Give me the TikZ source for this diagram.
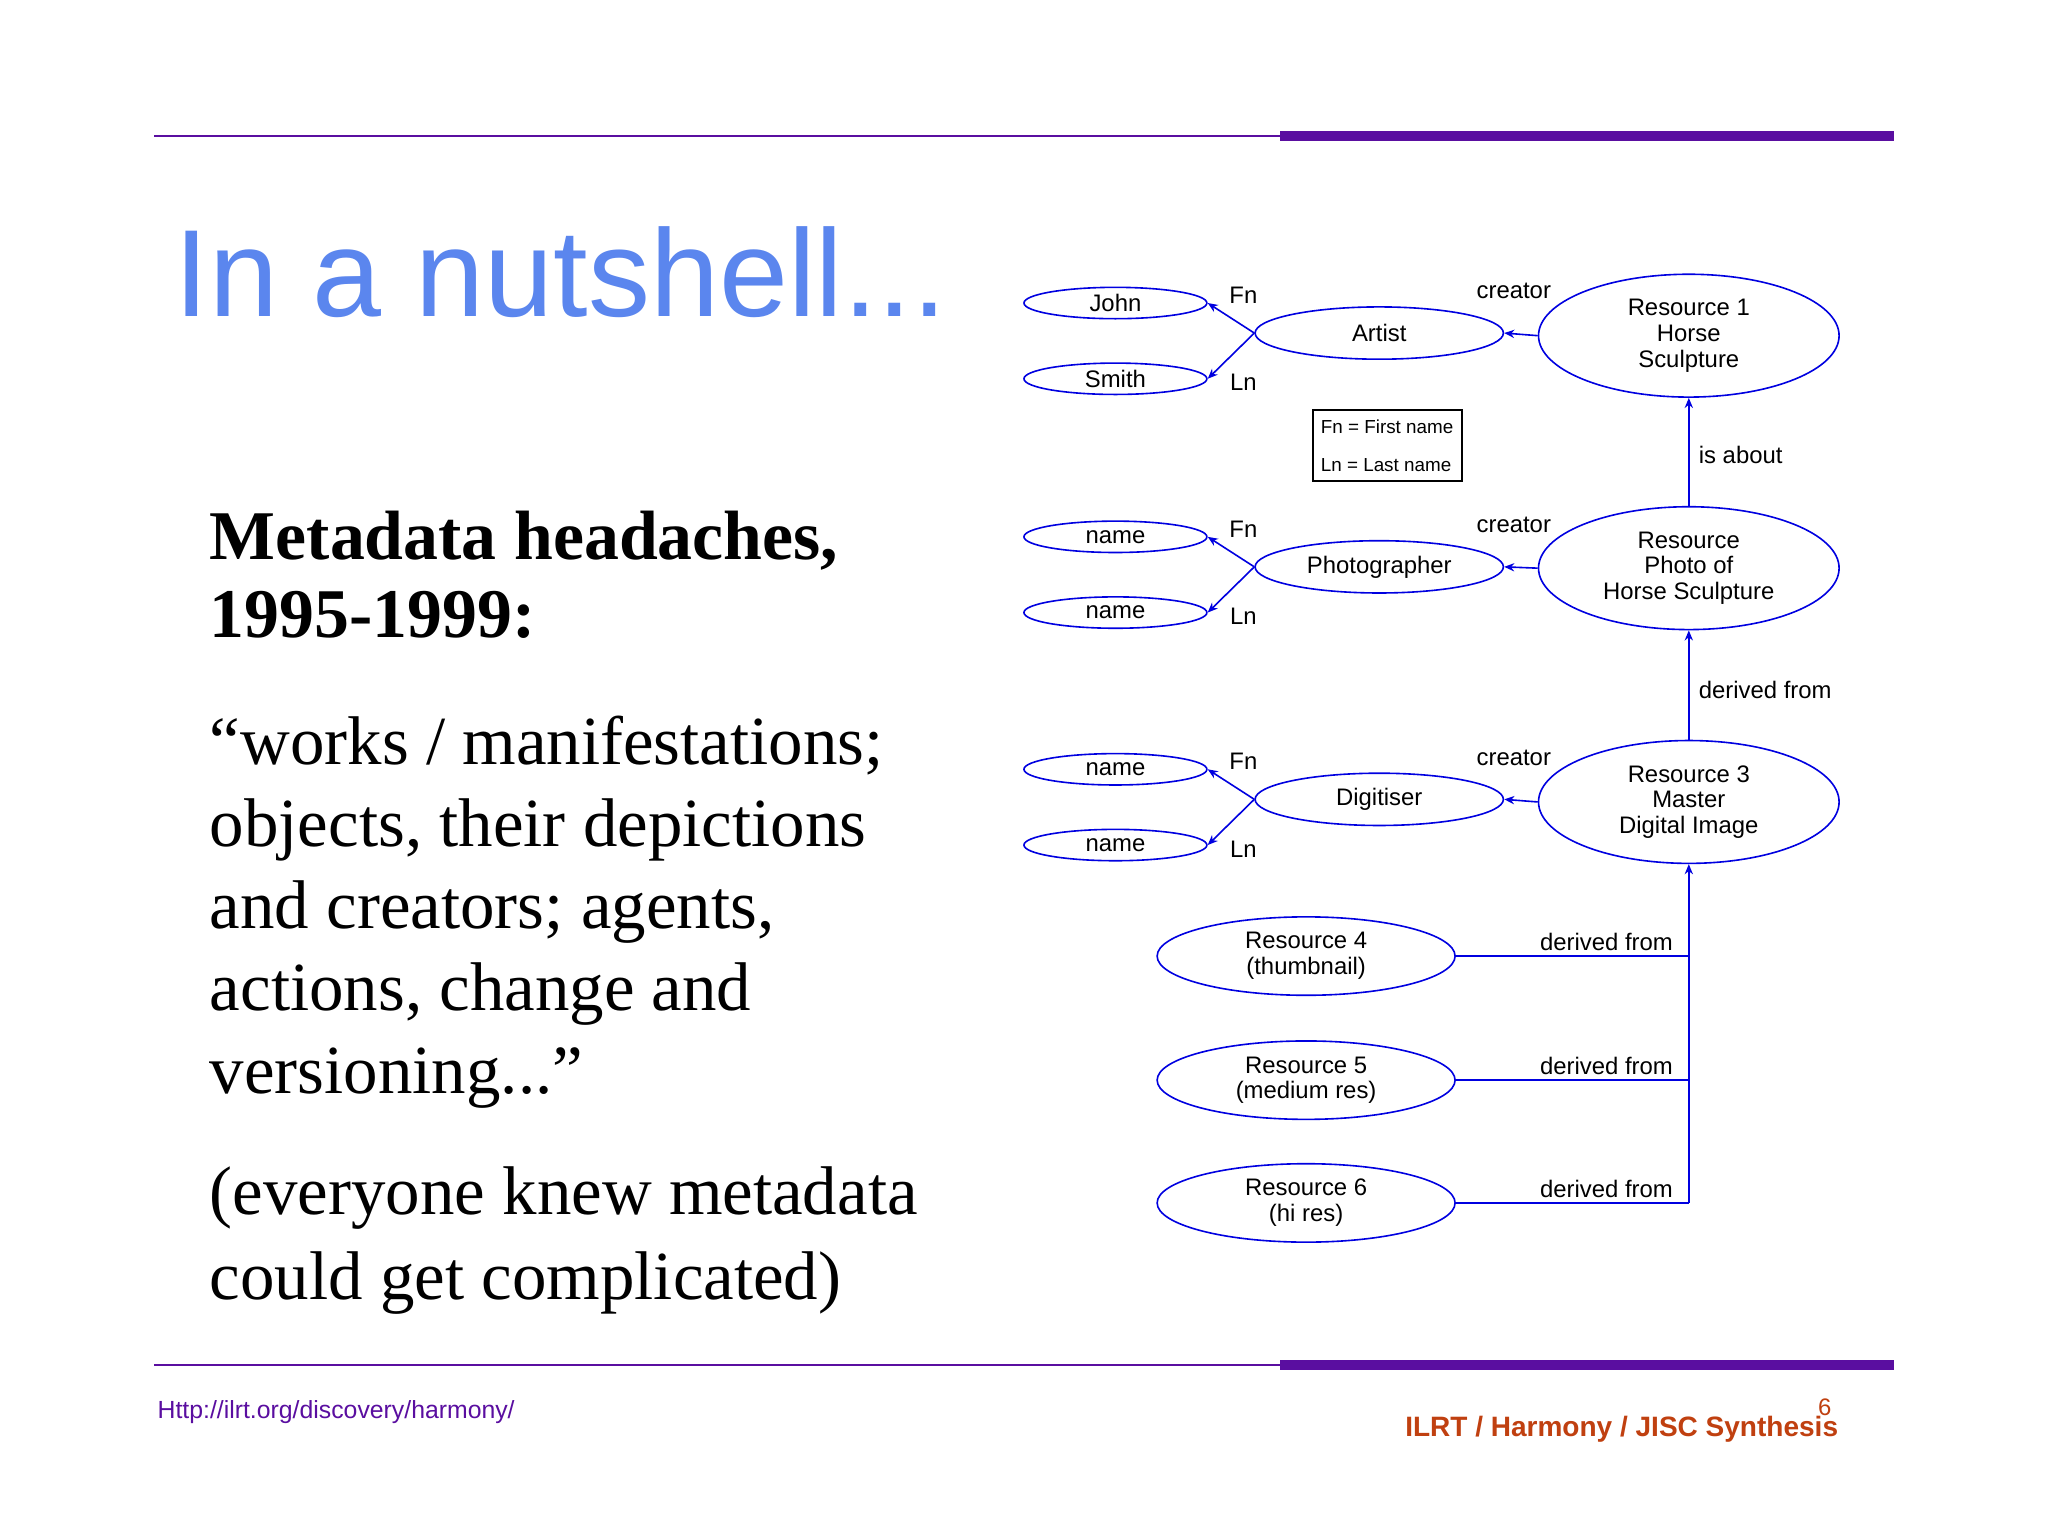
\documentclass[tikz,border=0pt]{standalone}
\usepackage{fontspec}
\setmainfont{Liberation Serif}
\newfontfamily\sans{Liberation Sans}
\usetikzlibrary{shapes.geometric,arrows.meta}
\definecolor{ttl}{HTML}{5B86EE}
\definecolor{rule}{HTML}{5A0EA0}
\definecolor{dblue}{HTML}{0000E0}
\definecolor{foot}{HTML}{C04010}
\begin{document}
\begin{tikzpicture}[x=0.01cm,y=-0.01cm,
  el/.style={draw=dblue,ellipse,inner sep=0pt,line width=0.35pt,font=\sans\fontsize{5.2}{5.6}\selectfont,align=center},
  lbl/.style={font=\sans\fontsize{5.2}{6}\selectfont,inner sep=0pt},
  ed/.style={draw=dblue,line width=0.35pt,-{Stealth[length=2.2pt,width=1.8pt]}},
  ln/.style={draw=dblue,line width=0.35pt},
  body/.style={anchor=base west,inner sep=0pt,font=\fontsize{15}{18}\selectfont}]
\useasboundingbox[fill=white] (0,0) rectangle (1568,1176);
% rules
\foreach \y in {104,1045}{
 \draw[rule,line width=0.5pt] (118,\y) -- (980,\y);
 \fill[rule] (980,\y-4) rectangle (1450,\y+4);}
\node[anchor=base west,inner sep=0pt,text=ttl,font=\sans\fontsize{27}{30}\selectfont] (title) at (133,242) {In a nutshell...};
\node[body,font=\bfseries\fontsize{15.2}{18}\selectfont] (h1) at (160,428) {Metadata headaches,};
\node[body,font=\bfseries\fontsize{15.2}{18}\selectfont] (h2) at (160,488) {1995-1999:};
\node[body] (q1) at (160,585) {“works / manifestations;};
\node[body] (q2) at (160,648) {objects, their depictions};
\node[body] (q3) at (160,711) {and creators; agents,};
\node[body] (q4) at (160,774) {actions, change and};
\node[body] (q5) at (160,837) {versioning...”};
\node[body] (e1) at (160,930) {(everyone knew metadata};
\node[body] (e2) at (160,995) {could get complicated)};
\node[anchor=base west,inner sep=0pt,text=rule,font=\sans\fontsize{5.4}{6}\selectfont] (url) at (120,1086) {Http://ilrt.org/discovery/harmony/};
\node[anchor=base east,inner sep=0pt,text=foot,font=\sans\bfseries\fontsize{6.1}{7}\selectfont] (ft) at (1408,1100) {ILRT / Harmony / JISC Synthesis};
\node[anchor=base,inner sep=0pt,text=foot,font=\sans\fontsize{5.2}{6}\selectfont] (pg) at (1397,1084) {6};
% diagram rows
\foreach \r/\yo/\a/\b/\mid/\res/\ry in {A/0/John/Smith/Artist/{Resource 1\\Horse\\Sculpture}/257,
  B/179/name/name/Photographer/{Resource\\Photo of\\Horse Sculpture}/435,
  C/357/name/name/Digitiser/{Resource 3\\Master\\Digital Image}/614}{
 \node[el,minimum width=1.4cm,minimum height=0.24cm] (\r f) at (854,232+\yo) {\a};
 \node[el,minimum width=1.4cm,minimum height=0.24cm] (\r l) at (854,290+\yo) {\b};
 \node[el,minimum width=1.9cm,minimum height=0.4cm] (\r m) at (1056,255+\yo) {\mid};
 \node[el,minimum width=2.3cm,minimum height=0.94cm] (\r r) at (1293,\ry) {\res};
 \draw[ed] (\r m.west) -- (\r f.east);
 \draw[ed] (\r m.west) -- (\r l.east);
 \draw[ed] (\r r.west) -- (\r m.east);
 \node[lbl] at (952,226+\yo) {Fn};
 \node[lbl] at (952,293+\yo) {Ln};
 \node[lbl] at (1159,223+\yo) {creator};
}
\node[draw,line width=0.4pt,minimum width=1.14cm,minimum height=0.54cm,inner sep=0pt,align=left,font=\sans\fontsize{4.1}{8.3}\selectfont] (legend) at (1062,341) {Fn = First name\\Ln = Last name};
\draw[ed] (Br.north) -- (Ar.south);
\node[lbl,anchor=west] at (1300,348) {is about};
\draw[ed] (Cr.north) -- (Br.south);
\node[lbl,anchor=west] at (1300,528) {derived from};
\foreach \n/\y/\t in {4/732/{Resource 4\\(thumbnail)},5/827/{Resource 5\\(medium res)},6/921/{Resource 6\\(hi res)}}{
 \node[el,minimum width=2.28cm,minimum height=0.6cm] (R\n) at (1000,\y) {\t};
 \draw[ln] (R\n.east) -- (1293,\y);
 \node[lbl] at (1230,\y-11) {derived from};
}
\coordinate (j) at (1293,921);
\draw[ed] (j) -- (Cr.south);
\end{tikzpicture}
\end{document}
